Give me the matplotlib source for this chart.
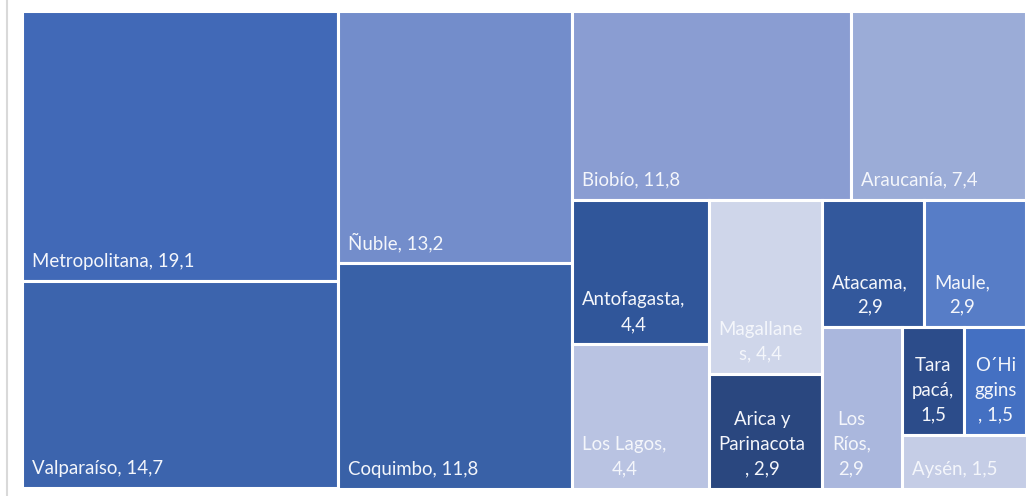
import matplotlib
matplotlib.use('Agg')
import matplotlib.pyplot as plt
from matplotlib.patches import Rectangle

# Regions (in layout order) and their values
regions = ['Metropolitana', 'Valparaíso', 'Ñuble', 'Coquimbo', 'Biobío', 'Araucanía',
           'Antofagasta', 'Los Lagos', 'Magallanes', 'Arica y Parinacota', 'Atacama',
           'Maule', 'Los Ríos', 'Tarapacá', 'O´Higgins', 'Aysén']
values = [19.1, 14.7, 13.2, 11.8, 11.8, 7.4, 4.4, 4.4, 4.4, 2.9, 2.9, 2.9, 2.9, 1.5, 1.5, 1.5]

# Labels as wrapped in the cells
labels = ['Metropolitana, 19,1', 'Valparaíso, 14,7', 'Ñuble, 13,2', 'Coquimbo, 11,8',
          'Biobío, 11,8', 'Araucanía, 7,4', 'Antofagasta,\n4,4', 'Los Lagos,\n4,4',
          'Magallane\ns, 4,4', 'Arica y\nParinacota\n, 2,9', 'Atacama,\n2,9', 'Maule,\n2,9',
          'Los\nRíos,\n2,9', 'Tara\npacá,\n1,5', 'O´Hi\nggins\n, 1,5', 'Aysén, 1,5']

colors = ['#4169b7', '#3c64ad', '#738dcb', '#3961a7', '#8a9dd2', '#9bacd7',
          '#30569a', '#b9c3e2', '#cfd6ea', '#2a477f', '#33589c', '#577dc7',
          '#aab7dd', '#2c4c8a', '#4470c2', '#c5cde6']

W, H = 1005.0, 478.0


def worst(row, side):
    s = sum(row)
    return max(max(side * side * r / (s * s), (s * s) / (side * side * r)) for r in row)


def squarify(areas, x, y, w, h):
    rects = []
    areas = list(areas)
    while areas:
        side = min(w, h)
        row = [areas[0]]
        i = 1
        while i < len(areas) and worst(row + [areas[i]], side) <= worst(row, side):
            row.append(areas[i])
            i += 1
        areas = areas[i:]
        s = sum(row)
        if w >= h:
            cw = s / h
            yy = y
            for r in row:
                rh = r / cw
                rects.append((x, yy, cw, rh))
                yy += rh
            x += cw
            w -= cw
        else:
            rh = s / w
            xx = x
            for r in row:
                rw = r / rh
                rects.append((xx, y, rw, rh))
                xx += rw
            y += rh
            h -= rh
    return rects


total = sum(values)
areas = [v / total * W * H for v in values]
rects = squarify(areas, 0, 0, W, H)

fig = plt.figure(figsize=(10.30, 4.96), dpi=100)
fig.patches.append(plt.Line2D([6.5 / 1030, 6.5 / 1030], [0, 1], transform=fig.transFigure,
                              color='#d9d9d9', lw=1.5))
ax = fig.add_axes([21.5 / 1030, 1 - 488.5 / 496, W / 1030, H / 496])
ax.set_xlim(0, W)
ax.set_ylim(H, 0)
ax.axis('off')

for (x, y, w, h), c, lab in zip(rects, colors, labels):
    ax.add_patch(Rectangle((x, y), w, h, facecolor=c, edgecolor='white', lw=2.2))
    ax.text(x + 10, y + h - 11, lab, ha='left', va='bottom', multialignment='center',
            color='#f4f6fb', fontsize=13.4, family='Lato', linespacing=1.55)

fig.savefig('out.png', dpi=100)
